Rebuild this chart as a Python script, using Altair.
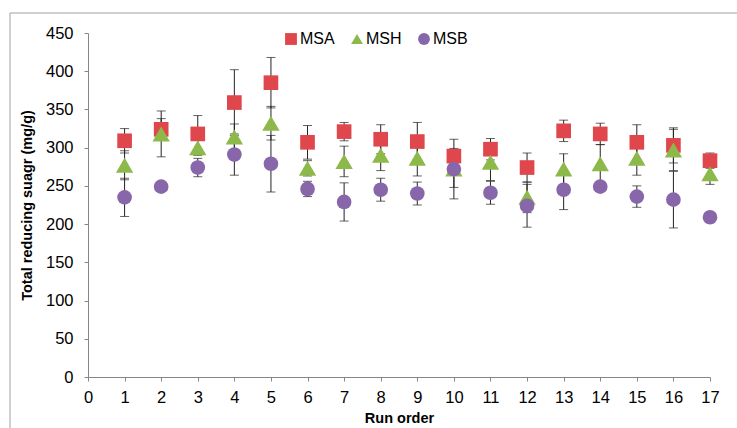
import altair as alt
import pandas as pd

# Run order (x) and the three series: mean total reducing sugar with error half-widths
runs = list(range(1, 18))
series_names = ["MSA", "MSH", "MSB"]

msa_mean = [309, 324, 318, 359, 385, 307, 321, 311, 308, 289, 298, 274, 322, 318, 307, 303, 283]
msa_err = [16, 14, 24, 43, 33, 22, 12, 19, 25, 10, 14, 19, 14, 14, 23, 23, 10]

msh_mean = [277, 318, 300, 314, 332, 273, 282, 290, 286, 272, 281, 235, 272, 279, 286, 297, 266]
msh_err = [19, 30, 10, 17, 22, 10, 20, 20, 23, 24, 24, 20, 20, 25, 22, 27, 14]

msb_mean = [235, 249, 274, 291, 279, 246, 229, 245, 240, 272, 241, 224, 245, 249, 236, 232, 209]
msb_err = [25, 4, 12, 27, 37, 10, 25, 15, 15, 39, 15, 28, 26, 5, 14, 37, 3]

x_ticks = list(range(0, 18))
y_ticks = list(range(0, 451, 50))

colors = ["#E0474C", "#8DB94B", "#8866AA"]
shapes = ["square", "triangle-up", "circle"]
marker_sizes = [215, 300, 215]

rows = []
for name, means, errs in zip(series_names, [msa_mean, msh_mean, msb_mean], [msa_err, msh_err, msb_err]):
    for r, m, e in zip(runs, means, errs):
        rows.append({"run": r, "series": name, "value": m, "lo": m - e, "hi": m + e})
df = pd.DataFrame(rows)

FONT = "Liberation Sans"

x_scale = alt.Scale(domain=[0, 17], nice=False, zero=True)
x_axis = alt.Axis(
    values=x_ticks, title="Run order", grid=False, tickSize=4, labelPadding=8,
    labelFontSize=16.5, titleFontSize=14.5, titleFontWeight="bold", titlePadding=6,
    domainColor="#868686", tickColor="#868686", labelColor="#000000", titleColor="#000000",
    labelFont=FONT, titleFont=FONT, labelFlush=False, labelOverlap=False,
)
y_scale = alt.Scale(domain=[0, 450], nice=False)
y_axis = alt.Axis(
    values=y_ticks, title="Total reducing suagr (mg/g)", grid=False, tickSize=4, labelPadding=11,
    labelFontSize=16.5, titleFontSize=14.5, titleFontWeight="bold", titlePadding=11,
    domainColor="#868686", tickColor="#868686", labelColor="#000000", titleColor="#000000",
    labelFont=FONT, titleFont=FONT, labelOverlap=False, labelFlush=False,
)


def X(field):
    return alt.X(field, type="quantitative", scale=x_scale, axis=x_axis)


def Y(field):
    return alt.Y(field, type="quantitative", scale=y_scale, axis=y_axis)


color_enc = alt.Color("series:N", scale=alt.Scale(domain=series_names, range=colors), title=None)
shape_enc = alt.Shape("series:N", scale=alt.Scale(domain=series_names, range=shapes), title=None)

base = alt.Chart(df)

# Outer frame around the figure
frame = alt.Chart(pd.DataFrame({"k": [0]})).mark_rect(
    fill=None, stroke="#A0A0A0", strokeWidth=1
).encode(
    x=alt.value(-78), x2=alt.value(700), y=alt.value(-20), y2=alt.value(500)
)

stems = base.mark_rule(color="#222222", strokeWidth=1).encode(
    x=X("run"), y=Y("lo"), y2="hi:Q"
)
caps_hi = base.mark_tick(color="#222222", thickness=1, size=9, orient="horizontal").encode(
    x=X("run"), y=Y("hi")
)
caps_lo = base.mark_tick(color="#222222", thickness=1, size=9, orient="horizontal").encode(
    x=X("run"), y=Y("lo")
)

# One marker layer per series (drawn MSA, MSH, MSB) sharing a single legend
point_layers = []
for name, sz in zip(series_names, marker_sizes):
    point_layers.append(
        base.transform_filter(alt.datum.series == name)
        .mark_point(filled=True, opacity=1, size=sz)
        .encode(x=X("run"), y=Y("value"), color=color_enc, shape=shape_enc)
    )

chart = alt.layer(frame, stems, caps_hi, caps_lo, *point_layers).properties(
    width=622, height=344,
    padding={"left": 88, "top": 33, "right": 27, "bottom": 51},
    autosize=alt.AutoSizeParams(type="none"),
).configure_view(stroke=None).configure_legend(
    orient="none", legendX=195, legendY=-2, direction="horizontal",
    labelFontSize=16, labelFont=FONT, labelColor="#000000",
    symbolSize=140, symbolStrokeWidth=0, labelOffset=1, columnPadding=14,
    symbolOpacity=1,
)

chart.save("out.html", embed_options={"renderer": "svg", "actions": False})
